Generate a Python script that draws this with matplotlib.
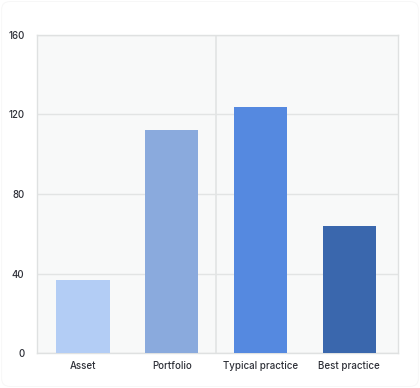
import matplotlib.pyplot as plt
from matplotlib.patches import FancyBboxPatch

plt.rcParams['font.family'] = ['Inter', 'DejaVu Sans']

categories = ['Asset', 'Portfolio', 'Typical practice', 'Best practice']
values = [37, 112, 124, 64]
colors = ['#b3cdf5', '#8aaadd', '#5589e0', '#3a67ad']
yticks = [0, 40, 80, 120, 160]

fig = plt.figure(figsize=(4.2, 3.88), dpi=100)
ax = fig.add_axes([0.088, 0.090, 0.860, 0.820])
ax.set_facecolor('#f8f9f9')

ax.bar(range(len(categories)), values, width=0.6, color=colors, zorder=3)

ax.set_ylim(0, 160)
ax.set_xlim(-0.52, 3.55)
ax.set_yticks(yticks)
ax.set_xticks(range(len(categories)))
ax.set_xticklabels(categories)
ax.grid(axis='y', color='#e2e4e4', linewidth=1, zorder=0)
ax.axvline(1.5, color='#e2e4e4', linewidth=1.2, zorder=1)

for s in ax.spines.values():
    s.set_color('#dfe1e1')
    s.set_linewidth(1)

ax.tick_params(length=0, labelsize=7, labelcolor='#2e3038')
ax.tick_params(axis='y', pad=9)
ax.tick_params(axis='x', pad=6)
for lab in ax.get_xticklabels() + ax.get_yticklabels():
    lab.set_fontweight('medium')

# very faint rounded card outline
card = FancyBboxPatch((0.004, 0.004), 0.992, 0.992, boxstyle='round,pad=0,rounding_size=0.02',
                      transform=fig.transFigure, facecolor='none', edgecolor='#f6f6f6', linewidth=0.6)
fig.patches.append(card)

fig.savefig('out.png', dpi=100)
